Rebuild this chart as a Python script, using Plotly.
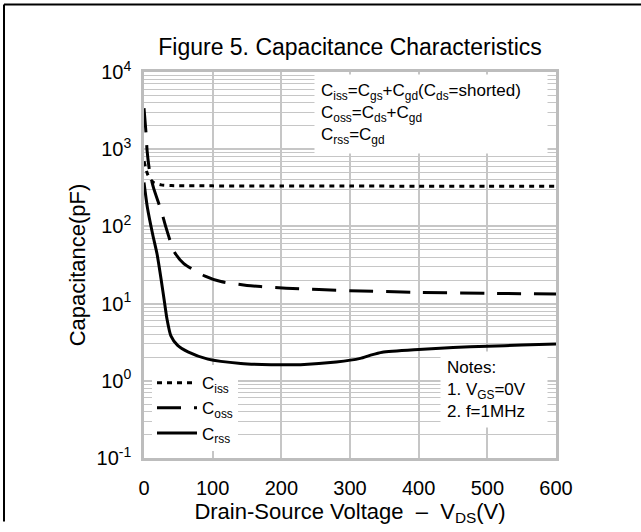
import plotly.graph_objects as go

# ---- data ----
ciss_v = [0, 2, 5, 10, 15, 25, 40, 100, 200, 300, 400, 500, 600]
ciss_c = [700, 600, 480, 400, 365, 345, 338, 335, 334, 333, 332, 331, 330]

coss_v = [0, 3, 4.5, 8.5, 14, 26, 32, 44, 58, 89, 112, 150, 170, 207, 300, 400, 500, 600]
coss_c = [3400, 1600, 960, 490, 313, 150, 97, 47, 33, 22.7, 19.3, 17.2, 16.6, 15.8, 14.7, 14.0, 13.6, 13.3]

crss_v = [0, 5, 12.6, 19, 25, 30, 33.5, 39, 49, 64, 93, 141, 185, 228, 280, 315, 330, 347, 400, 450, 500, 550, 600]
crss_c = [370, 174, 79, 44, 20.4, 10.2, 6.3, 3.86, 2.88, 2.37, 1.91, 1.68, 1.62, 1.62, 1.75, 1.95, 2.15, 2.35, 2.55, 2.7, 2.8, 2.9, 3.0]

x_ticks = [0, 100, 200, 300, 400, 500, 600]
y_ticks = [0.1, 1, 10, 100, 1000, 10000]
y_tick_text = ["10<sup>-1</sup>", "10<sup>0</sup>", "10<sup>1</sup>", "10<sup>2</sup>", "10<sup>3</sup>", "10<sup>4</sup>"]
y_minor = [m * d for d in [0.1, 1, 10, 100, 1000] for m in range(2, 10)]

FONT = "Liberation Sans, Arial, sans-serif"
W, H = 641, 532
L, R, T, B = 144, 556, 72, 467


def px(x):
    return (x - L) / (R - L)


def py(y):
    return 1 - (y - T) / (B - T)


fig = go.Figure()
fig.add_trace(go.Scatter(x=ciss_v, y=ciss_c, mode="lines", name="C<sub>iss</sub>",
                         line=dict(color="black", width=3, dash="5px,5px", shape="spline", smoothing=0.6)))
fig.add_trace(go.Scatter(x=coss_v, y=coss_c, mode="lines", name="C<sub>oss</sub>",
                         line=dict(color="black", width=3, dash="24px,13px", shape="spline", smoothing=0.6)))
fig.add_trace(go.Scatter(x=crss_v, y=crss_c, mode="lines", name="C<sub>rss</sub>",
                         line=dict(color="black", width=3, shape="spline", smoothing=0.6)))

grid = "#c6c6c6"
fig.update_xaxes(range=[0, 600], tickvals=x_ticks, ticks="", showgrid=True, gridcolor=grid, gridwidth=2,
                 showline=True, mirror=True, linecolor="#bdbdbd", linewidth=2.5, zeroline=False,
                 tickfont=dict(family=FONT, size=20, color="black"), ticklabelstandoff=10,
                 title=dict(text="Drain-Source Voltage  \u2013  V<sub>DS</sub>(V)", standoff=6,
                            font=dict(family=FONT, size=22, color="black")))
fig.update_yaxes(type="log", range=[-1, 4], tickvals=y_ticks, ticktext=y_tick_text, ticks="",
                 showgrid=True, gridcolor=grid, gridwidth=2,
                 minor=dict(tickvals=y_minor, showgrid=True, gridcolor=grid, gridwidth=1.3, ticks=""),
                 showline=True, mirror=True, linecolor="#bdbdbd", linewidth=2.5, zeroline=False,
                 tickfont=dict(family=FONT, size=20, color="black"), ticklabelstandoff=6,
                 title=dict(text="Capacitance(pF)", standoff=5,
                            font=dict(family=FONT, size=22, color="black")))

fig.add_annotation(xref="paper", yref="paper", x=px(314), y=py(74), xanchor="left", yanchor="top",
                   text="C<sub>iss</sub>=C<sub>gs</sub>+C<sub>gd</sub>(C<sub>ds</sub>=shorted)<br>"
                        "C<sub>oss</sub>=C<sub>ds</sub>+C<sub>gd</sub><br>C<sub>rss</sub>=C<sub>gd</sub>",
                   align="left", showarrow=False, bgcolor="white", borderpad=6, width=220,
                   font=dict(family=FONT, size=17, color="black"))
fig.add_annotation(xref="paper", yref="paper", x=px(440), y=py(358), xanchor="left", yanchor="top",
                   text="Notes:<br>1. V<sub>GS</sub>=0V<br>2. f=1MHz",
                   align="left", showarrow=False, bgcolor="white", borderpad=6, width=94,
                   font=dict(family=FONT, size=17, color="black"))

# outer frame lines (top and left)
fig.add_shape(type="line", xref="paper", yref="paper", x0=px(4), x1=px(641), y0=py(3), y1=py(3),
              line=dict(color="black", width=2))
fig.add_shape(type="line", xref="paper", yref="paper", x0=px(4), x1=px(4), y0=py(3), y1=py(532),
              line=dict(color="black", width=2))

fig.update_layout(
    width=W, height=H, autosize=False,
    margin=dict(l=L, r=W - R, t=T, b=H - B),
    paper_bgcolor="white", plot_bgcolor="white",
    title=dict(text="Figure 5. Capacitance Characteristics", x=0.5, xref="paper", xanchor="center",
               y=1 - 47 / H, yanchor="middle", font=dict(family=FONT, size=23, color="black")),
    legend=dict(x=px(152), y=py(460), xanchor="left", yanchor="bottom", bgcolor="white",
                font=dict(family=FONT, size=17, color="black"), itemwidth=40, tracegroupgap=0),
    showlegend=True,
)

fig.write_html("out.html", config={"displayModeBar": False},
               post_script="document.body.style.margin='0';document.documentElement.style.overflow='hidden';")
